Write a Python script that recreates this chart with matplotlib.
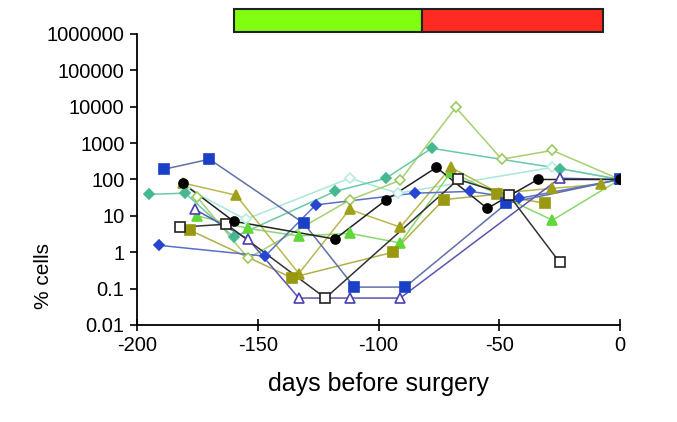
import matplotlib.pyplot as plt
import matplotlib.transforms as mtransforms
from matplotlib.patches import Rectangle

plt.rcParams['axes.unicode_minus'] = False
plt.rcParams['font.family'] = ['Liberation Sans', 'DejaVu Sans']

# Données (jours avant chirurgie, % cellules)
blue_sq_x = [-189, -170, -131, -110, -89, -47, 0]
blue_sq_y = [190, 360, 6.3, 0.11, 0.11, 22, 100]

tri_open_x = [-176, -154, -133, -112, -91, -25, 0]
tri_open_y = [15, 2.3, 0.055, 0.055, 0.055, 108, 100]

black_x = [-181, -160, -118, -97, -76, -55, -34, 0]
black_y = [79, 7.1, 2.3, 27, 215, 16, 100, 100]

sq_open_x = [-182, -163, -122, -67, -46, -25]
sq_open_y = [4.9, 5.9, 0.055, 100, 37, 0.53]

olive_sq_x = [-178, -136, -94, -73, -51, -31]
olive_sq_y = [4, 0.2, 1.0, 28, 39, 22]

olive_tri_x = [-181, -159, -133, -112, -91, -70, -50, -28, -8]
olive_tri_y = [80, 37, 0.26, 15, 4.9, 215, 42, 57, 74]

green_tri_x = [-175, -154, -133, -112, -91, -70, -28, 0]
green_tri_y = [10, 4.5, 2.8, 3.3, 1.8, 160, 7.6, 100]

dia_open_x = [-175, -154, -112, -91, -68, -49, -28, 0]
dia_open_y = [32, 0.68, 27, 95, 9600, 360, 630, 100]

teal_x = [-195, -180, -160, -118, -97, -78, -25, 0]
teal_y = [39, 42, 2.6, 47, 107, 720, 200, 100]

blue_dia_x = [-191, -147, -126, -85, -62, -42, 0]
blue_dia_y = [1.55, 0.78, 20, 42, 47, 30, 100]

cyan_x = [-180, -155, -112, -92, -28, 0]
cyan_y = [60, 8, 108, 42, 215, 100]

# Périodes (barre au-dessus du graphique)
green_start, green_end, red_end = -160, -82, -7

series = [
    (cyan_x, cyan_y, 'D', '#b8eee0', 'white', '#a8e8d8'),
    (dia_open_x, dia_open_y, 'D', '#9acb5e', 'white', '#a6d070'),
    (teal_x, teal_y, 'D', '#45b890', '#45b890', '#6cc8aa'),
    (green_tri_x, green_tri_y, '^', '#5ed83a', '#5ed83a', '#8ad870'),
    (olive_tri_x, olive_tri_y, '^', '#a0a018', '#a0a018', '#b8b850'),
    (olive_sq_x, olive_sq_y, 's', '#999910', '#999910', '#b0b048'),
    (blue_dia_x, blue_dia_y, 'D', '#2646d0', '#2646d0', '#5a70c8'),
    (tri_open_x, tri_open_y, '^', '#4a40b0', 'white', '#5a55b0'),
    (blue_sq_x, blue_sq_y, 's', '#1a40c8', '#1a40c8', '#6070a8'),
    (sq_open_x, sq_open_y, 's', '#222222', 'white', '#333333'),
    (black_x, black_y, 'o', '#000000', '#000000', '#222222'),
]

fig = plt.figure(figsize=(6.77, 4.22), dpi=100)
ax = fig.add_axes([0.2024, 0.2299, 0.7134, 0.6896])

for x, y, m, ec, fc, lc in series:
    ax.plot(x, y, color=lc, lw=1.1, zorder=2)
    ms = 5 if m == 'D' else 6.5
    ax.plot(x, y, ls='none', marker=m, ms=ms, mec=ec, mfc=fc, mew=1.2, zorder=3)

ax.set_yscale('log')
ax.set_xlim(-200, 0)
ax.set_ylim(0.01, 1000000)
ax.set_yticks([0.01, 0.1, 1, 10, 100, 1000, 10000, 100000, 1000000])
ax.set_yticklabels(['0.01', '0.1', '1', '10', '100', '1000', '10000', '100000', '1000000'])
ax.minorticks_off()
ax.set_xticks([-200, -150, -100, -50, 0])
ax.tick_params(axis='both', labelsize=14.5, length=5, width=1.2)
ax.tick_params(axis='y', pad=4)
ax.tick_params(axis='x', direction='inout', length=8, pad=4)
for s in ['top', 'right']:
    ax.spines[s].set_visible(False)
for s in ['left', 'bottom']:
    ax.spines[s].set_linewidth(1.3)

ax.set_xlabel('days before surgery', fontsize=18, labelpad=12)
ax.set_ylabel('% cells', fontsize=15)
ax.yaxis.set_label_coords(-0.175, 0.17)

trans = mtransforms.blended_transform_factory(ax.transData, ax.transAxes)
ax.add_patch(Rectangle((green_start, 1.007), green_end - green_start, 0.079,
                       transform=trans, clip_on=False, fc='#80ff10', ec='#222222', lw=1.5))
ax.add_patch(Rectangle((green_end, 1.007), red_end - green_end, 0.079,
                       transform=trans, clip_on=False, fc='#ff2a22', ec='#222222', lw=1.5))

plt.savefig('out.png', dpi=100)
